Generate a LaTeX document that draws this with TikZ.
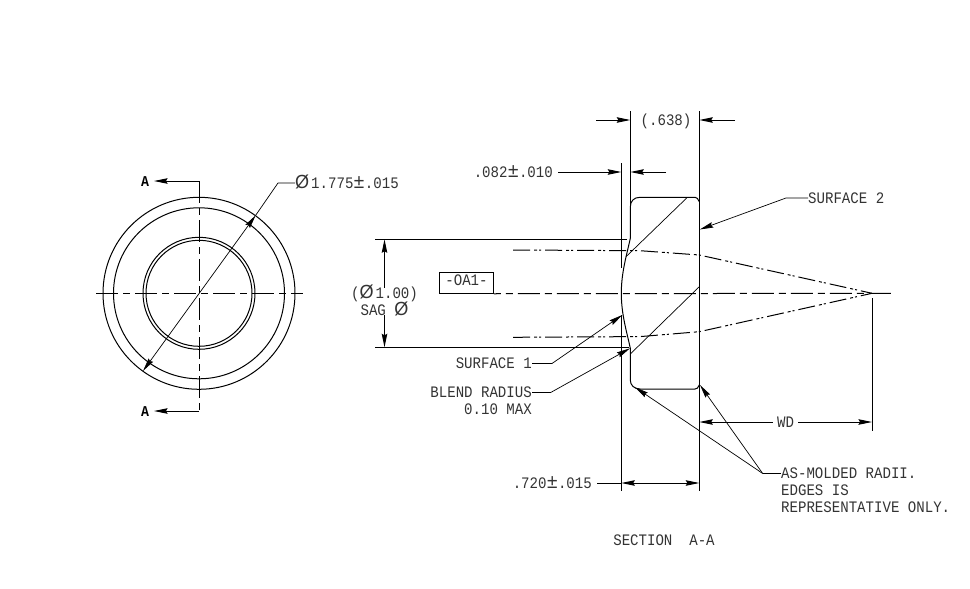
\documentclass[tikz,border=0pt]{standalone}
\usepackage{fontspec}
\usepackage{tikz}
\usetikzlibrary{arrows.meta}
\newfontfamily\cadfont[FakeStretch=0.88]{Liberation Mono}
\newfontfamily\symfont[FakeStretch=0.95]{Liberation Sans}
\newcommand{\diam}{{\symfont\fontsize{19}{19}\selectfont Ø}\hspace{2pt}}
\newcommand{\plusminus}{\hspace{0.5pt}{\symfont\fontsize{20}{20}\selectfont ±}\hspace{0.5pt}}

\tikzset{
    cadline/.style={line width=1pt},
    thinline/.style={line width=0.7pt},
    centerline/.style={line width=1pt, dash pattern=on 22pt off 5pt on 7pt off 5pt},
    phantomline/.style={line width=1pt, dash pattern=on 17pt off 4pt on 3pt off 2pt on 2pt off 4pt},
    cadtext/.style={inner sep=0pt, text=black!80, text height=10.5pt, text depth=0pt,
        font=\cadfont\fontsize{16}{17}\selectfont},
    cadblock/.style={inner sep=0pt, text=black!80, align=left,
        font=\cadfont\fontsize{16}{16.6}\selectfont},
    sectext/.style={cadtext, text=black, font=\cadfont\bfseries\fontsize{15}{16}\selectfont},
}

\begin{document}
\begin{tikzpicture}[x=1pt, y=-1pt, >={Stealth[length=13.5pt, width=5.5pt, inset=1.5pt]}]
    \useasboundingbox (0,0) rectangle (970,589);

    % Front view
    \coordinate (hub) at (199,293.3);
    \foreach \r in {96,85.5,56,53} {
        \draw[cadline] (hub) circle (\r);
    }
    \draw[centerline] (96,293.3) -- (303,293.3);

    % Section line
    \node[sectext] (secTop) at (145,181) {A};
    \node[sectext] (secBot) at (145,411) {A};
    \coordinate (secTopEnd) at (199,181);
    \coordinate (secBotEnd) at (199,411);
    \draw[cadline, ->] (secTopEnd) -- (154,181);
    \draw[cadline, ->] (secBotEnd) -- (154,411);
    \draw[centerline] (secTopEnd) -- (secBotEnd);

    % Outer diameter
    \node[cadtext, anchor=west] (dimOuter) at (295,183) {\diam 1.775\plusminus.015};
    \coordinate (dimOuterBend) at (278,183);
    \coordinate (dimOuterTip) at (255.6,215.4);
    \coordinate (dimOuterEnd) at (143,371);
    \draw[thinline] (dimOuter.west) -- (dimOuterBend) -- (dimOuterTip);
    \draw[thinline, <->] (dimOuterTip) -- (dimOuterEnd);

    % Section view outline
    \draw[cadline] (699.3,201.7) .. controls (698,199) and (697,197.3) .. (695,197.3)
        -- (640,197.3) .. controls (634,197.3) and (630.3,201) .. (630.3,207)
        -- (630.3,238.3) .. controls (627,254) and (621.3,272) .. (621.3,293.3)
        .. controls (621.3,314.6) and (627,332.6) .. (630.3,348.3)
        -- (630.3,380) .. controls (630.3,385) and (634,389) .. (640,389)
        -- (695,389) .. controls (697,389) and (698,388) .. (699.3,385);

    % Section hatch lines
    \draw[thinline] (686.7,198) -- (626,256.7);
    \draw[thinline] (699.3,286.7) -- (630.3,354);

    % Extension lines
    \draw[cadline] (630.3,111) -- (630.3,207);
    \draw[cadline] (699.3,111) -- (699.3,491);
    \draw[cadline] (621.3,163) -- (621.3,268);
    \draw[cadline] (621.3,315) -- (621.3,491);
    \draw[cadline] (872,298) -- (872,431);

    % Axis and datum
    \node[cadtext, draw=black, line width=0.9pt, minimum width=54pt, minimum height=21pt, text depth=5pt, text height=11pt] (datum) at (466.5,282.8) {-OA1-};
    \draw[centerline, dash phase=15pt] (datum.south east) -- (891,293.3);

    % Marginal rays
    \draw[phantomline] (513,250) -- (640,250.7) -- (699.3,255) -- (872,293.3);
    \draw[phantomline] (513,337.3) -- (640,336.6) -- (699.3,331.7) -- (872,293.3);

    % Sag diameter
    \draw[cadline] (375,239.3) -- (626.7,239.3);
    \draw[cadline] (375,347.3) -- (629,347.3);
    \node[cadtext] (dimSagA) at (384.5,293) {(\diam 1.00)};
    \node[cadtext] (dimSagB) at (384.5,310) {SAG \diam};
    \draw[cadline, ->] (dimSagA.north -| 384.5,0) -- (384.5,239.3);
    \draw[cadline, ->] (dimSagB.south -| 384.5,0) -- (384.5,347.3);

    % Thickness dimensions
    \node[cadtext] (dimEdge) at (666,120) {(.638)};
    \draw[cadline, ->] (596,120) -- (630.3,120);
    \draw[cadline, ->] (735,120) -- (699.3,120);

    \node[cadtext, anchor=east] (dimSag) at (553,172) {.082\plusminus.010};
    \draw[cadline, ->] (dimSag.east) ++(5,0) -- (621.3,172);
    \draw[cadline, ->] (666,172) -- (630.3,172);

    \node[cadtext, anchor=east] (dimCenter) at (592,483) {.720\plusminus.015};
    \draw[cadline] (dimCenter.east) ++(5,0) -- (621.3,483);
    \draw[cadline, <->] (621.3,483) -- (699.3,483);

    % Working distance
    \node[cadtext] (dimWd) at (785.5,422) {WD};
    \draw[cadline, ->] (dimWd.west) ++(-4,0) -- (699.3,422);
    \draw[cadline, ->] (dimWd.east) ++(4,0) -- (872,422);

    % Notes
    \node[cadtext, anchor=west] (noteTwo) at (808,198) {SURFACE 2};
    \coordinate (noteTwoBend) at (786,198);
    \draw[thinline, ->] (noteTwo.west) -- (noteTwoBend) -- (699.8,229.5);

    \node[cadtext, anchor=east] (noteOne) at (532,363.5) {SURFACE 1};
    \coordinate (noteOneBend) at (552,363.5);
    \draw[thinline, ->] (noteOne.east) -- (noteOneBend) -- (622.3,315);

    \node[cadtext, anchor=east] (noteBlend) at (532,392.5) {BLEND RADIUS};
    \node[cadtext, anchor=east] (noteMax) at (532,409) {0.10 MAX};
    \coordinate (noteBlendBend) at (550.7,392.5);
    \draw[thinline, ->] (noteBlend.east) -- (noteBlendBend) -- (630,348.3);

    \node[cadblock, anchor=north west] (noteRadii) at (781,468) {AS-MOLDED RADII.\\EDGES IS\\REPRESENTATIVE ONLY.};
    \coordinate (noteRadiiBend) at (762.7,473.5);
    \draw[thinline] (781,473.5) -- (noteRadiiBend);
    \draw[thinline, ->] (noteRadiiBend) -- (700,385);
    \draw[thinline, ->] (noteRadiiBend) -- (635,387.3);

    % Title
    \node[cadtext] (viewTitle) at (664,540) {SECTION\ \ A-A};
\end{tikzpicture}
\end{document}
